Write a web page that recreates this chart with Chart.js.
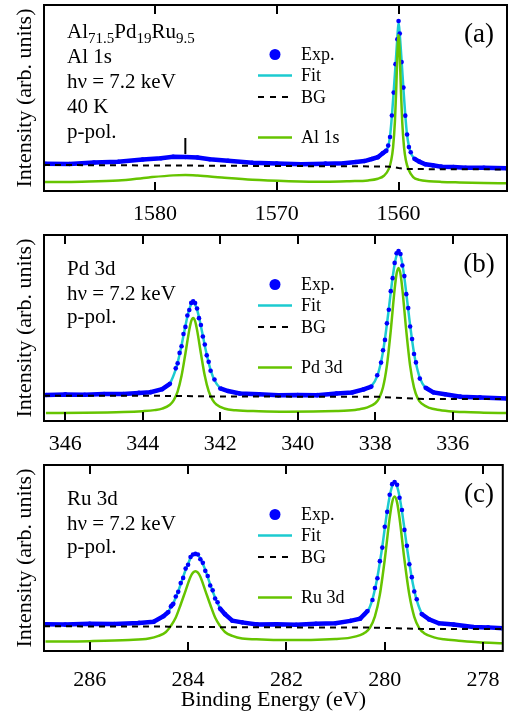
<!DOCTYPE html>
<html lang="en">

<head>
    <meta charset="UTF-8">
    <meta name="viewport" content="width=device-width, initial-scale=1.0">
    <title>Al-Pd-Ru core levels</title>
    <script src="https://cdn.jsdelivr.net/npm/chart.js"></script>
    <style>
        body { margin: 0; background: #fff; }
        .panel { position: absolute; left: 0; width: 516px; }
    </style>
</head>

<body>
    <div class="panel" style="top:0;height:230px"><canvas id="chartA"></canvas></div>
    <div class="panel" style="top:230px;height:230px"><canvas id="chartB"></canvas></div>
    <div class="panel" style="top:460px;height:259px"><canvas id="chartC"></canvas></div>
</body>

</html>

<script>
    // ---- (a) Al 1s ----
    const rangeA = [1551.1, 1589.1];
    const ticksA = [1580, 1570, 1560];
    const energyA = [1589.0, 1587.0, 1585.0, 1583.0, 1581.0, 1579.5, 1578.5, 1577.5, 1576.5, 1575.5,
        1574.0, 1572.0, 1570.0, 1568.0, 1566.0, 1564.5, 1563.5, 1562.8, 1562.2, 1561.7,
        1561.3, 1561.0, 1560.85, 1560.7, 1560.55, 1560.4, 1560.25, 1560.1, 1560.0, 1559.9,
        1559.75, 1559.6, 1559.45, 1559.3, 1559.15, 1559.0, 1558.7, 1558.3, 1557.8, 1557.2,
        1556.5, 1555.5, 1554.5, 1553.0, 1551.1];
    const expA = [14.6, 14.5, 15.3, 15.7, 16.9, 17.6, 18.4, 18.3, 18.0, 17.1,
        16.3, 15.2, 14.8, 14.4, 14.7, 14.9, 15.6, 16.1, 17.2, 18.2,
        20.3, 21.7, 24.4, 29.0, 40.6, 52.9, 68.2, 81.6, 91.4, 84.7,
        69.3, 55.6, 40.5, 30.4, 23.6, 20.8, 17.3, 15.8, 14.4, 13.8,
        13.1, 12.9, 12.5, 12.5, 12.2];
    const fitA = [14.5, 14.7, 15.1, 15.8, 16.8, 17.7, 18.2, 18.4, 17.9, 17.2,
        16.2, 15.3, 14.7, 14.5, 14.6, 15.0, 15.5, 16.2, 17.0, 18.3,
        20.0, 22.0, 24.0, 29.5, 40.0, 53.5, 67.5, 82.5, 90.6, 84.0,
        70.0, 55.0, 41.0, 30.0, 24.0, 20.5, 17.5, 15.6, 14.5, 13.7,
        13.2, 12.8, 12.6, 12.4, 12.2];
    const bgEnergyA = [1589.1, 1561.5, 1560.6, 1560.0, 1559.4, 1551.1];
    const bgA = [14.0, 13.2, 13.1, 12.4, 11.8, 11.6];
    const compEnergyA = [1589.1, 1586, 1583, 1580.5, 1578.5, 1577.5, 1576.5, 1574.5, 1572, 1569,
        1566, 1564, 1562.5, 1561.7, 1561.2, 1560.8, 1560.6, 1560.45, 1560.3, 1560.2,
        1560.1, 1560.0, 1559.9, 1559.8, 1559.7, 1559.55, 1559.4, 1559.2, 1558.8, 1558.3,
        1557.5, 1556.5, 1555, 1553, 1551.1];
    const compA = [4.8, 5.0, 5.6, 7.3, 8.4, 8.6, 8.3, 7.2, 6.0, 5.3,
        5.0, 5.3, 5.7, 6.6, 8.2, 11.9, 16.6, 23.5, 37.3, 53.1,
        73.0, 83.9, 72.9, 53.0, 37.2, 23.4, 16.5, 11.8, 7.5, 6.0,
        5.3, 4.9, 4.6, 4.3, 4.1];
    // plasmon marker
    const markEnergyA = [1577.5, 1577.5];
    const markA = [19.9, 28.5];

    // ---- (b) Pd 3d ----
    const rangeB = [334.6, 346.55];
    const ticksB = [346, 344, 342, 340, 338, 336];
    const energyB = [346.5, 346.0, 345.5, 345.0, 344.5, 344.1, 343.8, 343.5, 343.3, 343.15,
        343.10, 343.05, 343.00, 342.95, 342.90, 342.85, 342.80, 342.75, 342.70, 342.65,
        342.60, 342.55, 342.50, 342.45, 342.40, 342.35, 342.30, 342.25, 342.15, 342.0,
        341.8, 341.5, 341.0, 340.5, 340.0, 339.5, 339.0, 338.6, 338.3, 338.1,
        337.95, 337.85, 337.80, 337.75, 337.70, 337.65, 337.60, 337.55, 337.50, 337.45,
        337.40, 337.35, 337.30, 337.25, 337.20, 337.15, 337.10, 337.05, 337.00, 336.95,
        336.85, 336.7, 336.5, 336.2, 335.8, 335.3, 334.6];
    const expB = [14.0, 14.3, 14.1, 14.5, 14.5, 15.1, 15.5, 17.1, 20.0, 28.3,
        31.0, 36.6, 40.2, 46.8, 50.6, 56.7, 59.7, 63.5, 64.3, 63.4,
        60.5, 55.3, 51.6, 45.4, 41.1, 35.3, 31.8, 27.0, 22.3, 17.5,
        16.1, 14.8, 14.4, 13.8, 14.0, 13.9, 14.8, 15.3, 17.0, 18.5,
        24.6, 31.4, 38.0, 43.6, 52.5, 59.8, 69.8, 76.8, 85.0, 90.2,
        91.4, 89.8, 83.6, 77.9, 68.2, 60.7, 50.8, 44.1, 36.0, 31.5,
        22.8, 17.9, 15.4, 14.4, 13.1, 12.7, 12.1];
    const fitB = [14.1, 14.1, 14.2, 14.3, 14.6, 14.9, 15.6, 16.9, 20.3, 27.8,
        31.5, 35.9, 40.6, 46.0, 51.1, 56.0, 60.0, 62.8, 63.7, 62.7,
        59.9, 55.9, 51.0, 45.9, 40.5, 35.8, 31.3, 27.5, 21.9, 17.7,
        15.9, 15.0, 14.3, 14.0, 13.9, 14.1, 14.7, 15.4, 16.8, 18.7,
        24.1, 31.9, 37.3, 44.2, 51.9, 60.4, 69.1, 77.4, 84.3, 89.1,
        90.8, 89.0, 84.2, 77.2, 68.8, 60.0, 51.4, 43.5, 36.6, 31.0,
        23.2, 17.7, 15.6, 14.3, 13.3, 12.6, 12.2];
    const bgEnergyB = [346.55, 343.2, 342.2, 337.9, 336.9, 334.6];
    const bgB = [13.6, 13.5, 13.2, 13.0, 11.9, 11.8];
    const compEnergyB = [346.5, 345.5, 344.5, 344.0, 343.7, 343.5, 343.3, 343.2, 343.1, 343.0,
        342.9, 342.8, 342.75, 342.7, 342.65, 342.6, 342.5, 342.4, 342.3, 342.2,
        342.1, 341.9, 341.6, 341.0, 340.3, 339.6, 339.0, 338.7, 338.4, 338.2,
        338.0, 337.9, 337.8, 337.7, 337.6, 337.5, 337.45, 337.4, 337.35, 337.3,
        337.2, 337.1, 337.0, 336.9, 336.8, 336.6, 336.4, 336.1, 335.7, 335.2, 334.6];
    const compB = [4.3, 4.4, 4.8, 5.3, 5.85, 6.65, 8.75, 11.25, 15.95, 24.3,
        36.3, 49.0, 53.7, 55.4, 53.7, 49.0, 36.3, 24.3, 16.0, 11.35,
        8.85, 6.75, 5.75, 5.25, 5.0, 5.05, 5.35, 5.65, 6.35, 7.35,
        9.55, 12.25, 18.1, 29.75, 48.65, 70.85, 79.2, 82.3, 79.2, 70.8,
        48.55, 29.65, 17.95, 12.0, 9.3, 7.05, 6.05, 5.3, 4.8, 4.5, 4.25];

    // ---- (c) Ru 3d ----
    const rangeC = [277.6, 286.93];
    const ticksC = [286, 284, 282, 280, 278];
    const energyC = [286.9, 286.5, 286.0, 285.5, 285.0, 284.7, 284.5, 284.4, 284.35, 284.30,
        284.25, 284.20, 284.15, 284.10, 284.05, 284.00, 283.95, 283.90, 283.85, 283.80,
        283.75, 283.70, 283.65, 283.60, 283.55, 283.50, 283.45, 283.40, 283.35, 283.25,
        283.1, 282.9, 282.6, 282.2, 281.8, 281.4, 281.0, 280.7, 280.5, 280.35,
        280.25, 280.20, 280.15, 280.10, 280.05, 280.00, 279.95, 279.90, 279.85, 279.80,
        279.75, 279.70, 279.65, 279.60, 279.55, 279.50, 279.45, 279.40, 279.35, 279.25,
        279.1, 278.9, 278.6, 278.2, 277.9, 277.6];
    const expC = [14.4, 14.2, 14.6, 14.5, 15.1, 15.7, 18.7, 21.0, 23.9, 25.4,
        29.3, 31.8, 36.5, 39.3, 44.3, 46.4, 50.5, 51.9, 52.2, 51.9,
        49.3, 47.4, 43.1, 40.3, 35.2, 32.6, 28.2, 26.2, 22.8, 19.8,
        16.3, 15.4, 14.3, 14.4, 14.1, 14.6, 14.9, 16.2, 17.4, 21.5,
        27.4, 33.9, 39.1, 48.3, 55.6, 66.8, 74.8, 84.0, 89.7, 90.9,
        89.4, 82.4, 75.8, 65.1, 56.6, 46.6, 39.7, 32.0, 27.8, 19.9,
        17.0, 14.9, 14.2, 12.9, 12.7, 12.2];
    const fitC = [14.3, 14.35, 14.45, 14.6, 14.95, 15.9, 18.4, 21.3, 23.4, 25.8,
        28.8, 32.2, 35.9, 39.8, 43.7, 46.9, 49.9, 51.7, 52.4, 51.6,
        49.8, 46.8, 43.6, 39.7, 35.8, 32.1, 28.7, 25.7, 23.15, 19.45,
        16.45, 15.2, 14.5, 14.3, 14.2, 14.5, 15.0, 16.0, 17.6, 21.0,
        27.9, 33.2, 39.7, 47.6, 56.2, 66.0, 75.4, 83.2, 88.6, 90.9,
        88.5, 83.0, 75.1, 65.7, 55.9, 47.2, 39.1, 32.6, 27.3, 20.3,
        16.8, 15.1, 14.1, 13.0, 12.6, 12.3];
    const bgEnergyC = [286.93, 284.4, 283.3, 280.3, 279.3, 277.6];
    const bgC = [13.3, 13.1, 12.8, 12.6, 11.9, 11.8];
    const compEnergyC = [286.9, 286.0, 285.2, 284.8, 284.6, 284.45, 284.35, 284.25, 284.15, 284.05,
        283.95, 283.9, 283.85, 283.8, 283.75, 283.65, 283.55, 283.45, 283.35, 283.25,
        283.1, 282.9, 282.5, 282.0, 281.5, 281.0, 280.7, 280.5, 280.4, 280.3,
        280.2, 280.1, 280.0, 279.9, 279.85, 279.8, 279.75, 279.7, 279.6, 279.5,
        279.4, 279.3, 279.2, 279.0, 278.8, 278.5, 278.1, 277.6];
    const compC = [5.1, 5.3, 5.9, 6.7, 8.1, 10.2, 13.5, 18.0, 25.0, 32.5,
        39.9, 42.1, 42.9, 42.1, 39.9, 32.5, 25.0, 18.0, 13.5, 10.2,
        8.1, 6.7, 6.2, 5.85, 5.9, 6.4, 7.2, 8.5, 9.9, 12.6,
        18.6, 30.3, 49.2, 71.55, 79.9, 83.0, 79.9, 71.5, 49.1, 30.2,
        18.4, 12.35, 9.6, 7.35, 6.3, 5.55, 4.7, 4.2];

    const SERIF = '"Liberation Serif", "Times New Roman", serif';
    const BLUE = '#0000ff';
    const CYAN = '#1ccbd0';
    const GREEN = '#66c400';

    function pts(xs, ys) {
        return xs.map((x, i) => ({ x: x, y: ys[i] }));
    }

    // the dense data points merge into a band where the curve is flat
    function bandColor(c) {
        const dx = Math.abs(c.p1.x - c.p0.x);
        const dy = Math.abs(c.p1.y - c.p0.y);
        const low = c.p0.parsed.y < 26 && c.p1.parsed.y < 26;
        return (low && dy <= 1.5 * dx) ? BLUE : 'rgba(0,0,0,0)';
    }

    function drawParts(ctx, parts, x, y) {
        parts.forEach(p => {
            const sub = Array.isArray(p);
            const t = sub ? p[0] : p;
            ctx.font = (sub ? 15 : 21) + 'px ' + SERIF;
            ctx.fillText(t, x, sub ? y + 5 : y);
            x += ctx.measureText(t).width;
        });
    }

    // frame, inward ticks, legend and labels
    const deco = {
        id: 'deco',
        afterDatasetsDraw(chart, args, o) {
            const ctx = chart.ctx;
            const a = chart.chartArea;
            const x = chart.scales.x;
            ctx.save();
            ctx.strokeStyle = '#000';
            ctx.lineWidth = 2;
            ctx.setLineDash([]);
            x.ticks.forEach(t => {
                const px = Math.round(x.getPixelForValue(t.value));
                ctx.beginPath();
                ctx.moveTo(px, a.top);
                ctx.lineTo(px, a.top + 9);
                ctx.moveTo(px, a.bottom);
                ctx.lineTo(px, a.bottom - 9);
                ctx.stroke();
            });
            ctx.strokeRect(a.left, a.top, a.right - a.left, a.bottom - a.top);

            // text block on the left
            ctx.fillStyle = '#000';
            ctx.textBaseline = 'alphabetic';
            ctx.textAlign = 'left';
            o.lines.forEach((ln, i) => drawParts(ctx, ln, 67, o.lineY[i]));

            // panel letter
            ctx.font = '27px ' + SERIF;
            ctx.textAlign = 'center';
            ctx.textBaseline = 'middle';
            ctx.fillText(o.letter, 479, 35);

            // legend
            const rows = [54.5, 75.5, 97, 137.5];
            ctx.fillStyle = BLUE;
            ctx.beginPath();
            ctx.arc(275, rows[0], 5.5, 0, Math.PI * 2);
            ctx.fill();
            ctx.lineWidth = 2.5;
            ctx.strokeStyle = CYAN;
            ctx.beginPath();
            ctx.moveTo(258, rows[1]);
            ctx.lineTo(292, rows[1]);
            ctx.stroke();
            ctx.strokeStyle = '#000';
            ctx.lineWidth = 2;
            ctx.setLineDash([6, 6]);
            ctx.beginPath();
            ctx.moveTo(258, rows[2]);
            ctx.lineTo(289, rows[2]);
            ctx.stroke();
            ctx.setLineDash([]);
            ctx.lineWidth = 2.5;
            ctx.strokeStyle = GREEN;
            ctx.beginPath();
            ctx.moveTo(258, rows[3]);
            ctx.lineTo(292, rows[3]);
            ctx.stroke();
            ctx.fillStyle = '#000';
            ctx.font = '18px ' + SERIF;
            ctx.textAlign = 'left';
            ['Exp.', 'Fit', 'BG', o.comp].forEach((t, i) => ctx.fillText(t, 301, rows[i] + 1));
            ctx.restore();
        }
    };

    function panel(id, d) {
        const datasets = [
            { data: pts(d.bgE, d.bg), borderColor: '#000', borderWidth: 2, borderDash: [6, 5], pointRadius: 0, tension: 0 },
            { data: pts(d.compE, d.comp), borderColor: GREEN, borderWidth: 2.5, pointRadius: 0, cubicInterpolationMode: 'monotone' },
            {
                data: pts(d.e, d.exp), borderColor: BLUE, borderWidth: 4.5, tension: 0,
                pointRadius: 2.3, pointBorderWidth: 0, pointBackgroundColor: BLUE,
                segment: { borderColor: bandColor }
            },
            { data: pts(d.e, d.fit), borderColor: CYAN, borderWidth: 2.5, pointRadius: 0, cubicInterpolationMode: 'monotone' }
        ];
        if (d.markE) {
            datasets.splice(2, 0, { data: pts(d.markE, d.mark), borderColor: '#000', borderWidth: 2, pointRadius: 0 });
        }
        return new Chart(document.getElementById(id), {
            type: 'line',
            data: { datasets: datasets },
            plugins: [deco],
            options: {
                responsive: true,
                maintainAspectRatio: false,
                animation: false,
                devicePixelRatio: 1,
                layout: { padding: { top: 5, right: 9, left: 0, bottom: 0 } },
                plugins: {
                    legend: { display: false },
                    tooltip: { enabled: false },
                    deco: { lines: d.lines, lineY: d.lineY, letter: d.letter, comp: d.compName }
                },
                scales: {
                    x: {
                        type: 'linear',
                        reverse: true,
                        min: d.range[0],
                        max: d.range[1],
                        afterBuildTicks: s => { s.ticks = d.ticks.map(v => ({ value: v })); },
                        afterFit: s => { s.height = d.xh; },
                        grid: { display: false, drawTicks: false },
                        border: { display: false },
                        ticks: {
                            color: '#000', padding: d.tp, maxRotation: 0, autoSkip: false,
                            font: { family: SERIF, size: 22 },
                            callback: v => String(v)
                        },
                        title: {
                            display: !!d.xTitle, text: d.xTitle || '', color: '#000',
                            font: { family: SERIF, size: 22 }, padding: { top: 0, bottom: 6 }
                        }
                    },
                    y: {
                        min: 0,
                        max: 100,
                        afterFit: s => { s.width = 44; },
                        ticks: { display: false },
                        grid: { display: false, drawTicks: false },
                        border: { display: false },
                        title: {
                            display: true, text: 'Intensity (arb. units)', color: '#000',
                            font: { family: SERIF, size: 22 }, padding: { top: 12, bottom: 0 }
                        }
                    }
                }
            }
        });
    }

    panel('chartA', {
        range: rangeA, ticks: ticksA, e: energyA, exp: expA, fit: fitA,
        bgE: bgEnergyA, bg: bgA, compE: compEnergyA, comp: compA,
        markE: markEnergyA, mark: markA,
        xh: 39, tp: 10, letter: '(a)', compName: 'Al 1s',
        lines: [['Al', ['71.5'], 'Pd', ['19'], 'Ru', ['9.5']], ['Al 1s'], ['h\u03bd = 7.2 keV'], ['40 K'], ['p-pol.']],
        lineY: [38, 63, 88, 113, 137.5]
    });

    panel('chartB', {
        range: rangeB, ticks: ticksB, e: energyB, exp: expB, fit: fitB,
        bgE: bgEnergyB, bg: bgB, compE: compEnergyB, comp: compB,
        xh: 39, tp: 10, letter: '(b)', compName: 'Pd 3d',
        lines: [['Pd 3d'], ['h\u03bd = 7.2 keV'], ['p-pol.']],
        lineY: [45, 70, 93]
    });

    panel('chartC', {
        range: rangeC, ticks: ticksC, e: energyC, exp: expC, fit: fitC,
        bgE: bgEnergyC, bg: bgC, compE: compEnergyC, comp: compC,
        xh: 68, tp: 16, letter: '(c)', compName: 'Ru 3d', xTitle: 'Binding Energy (eV)',
        lines: [['Ru 3d'], ['h\u03bd = 7.2 keV'], ['p-pol.']],
        lineY: [45, 70, 93]
    });
</script>
